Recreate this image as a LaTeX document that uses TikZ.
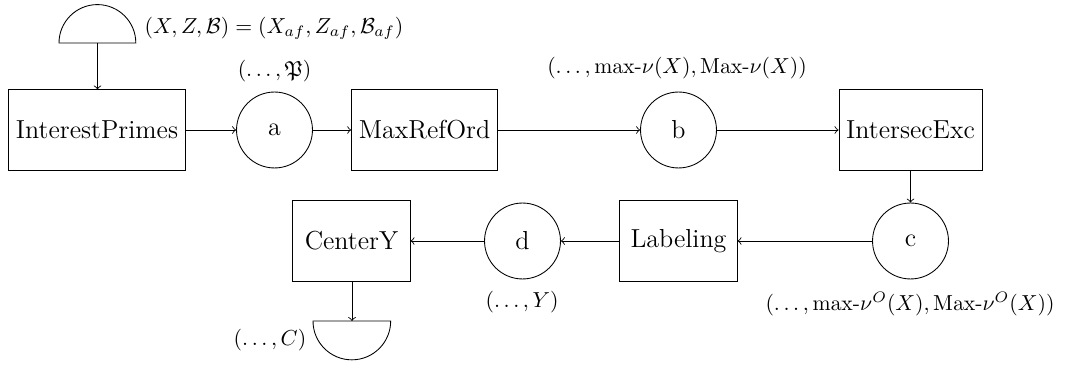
\documentclass[tikz,border=0pt]{standalone}
\usepackage{amsmath,amssymb}
\tikzset{
  proc/.style={draw, rectangle, font=\large, minimum height=1.3cm, minimum width=1.9cm, inner sep=0.3333em},
  state/.style={draw, circle, font=\large, minimum size=35pt, inner sep=0pt},
  lbl/.style={inner sep=0pt},
  conn/.style={->},
}
\begin{document}
\begin{tikzpicture}[x=0.46083pt, y=-0.46083pt]
\useasboundingbox (0,0) rectangle (1078,367);
% source / sink
\draw (59,43) arc[start angle=180, end angle=0, radius=17.7pt] -- cycle;
\coordinate (src) at (97.5,43);
\draw (313,321) arc[start angle=180, end angle=360, radius=17.9pt] -- cycle;
\coordinate (snk) at (352,321);
% nodes
\node[proc] (ip) at (97,130) {InterestPrimes};
\node[state] (a) at (274.5,130) {a};
\node[proc] (mro) at (424.5,130) {MaxRefOrd};
\node[state] (b) at (678.5,130) {b};
\node[proc] (ie) at (910.5,130) {IntersecExc};
\node[state] (c) at (910.5,241) {c};
\node[proc] (lab) at (678.5,241) {Labeling};
\node[state] (d) at (522.5,241) {d};
\node[proc] (cy) at (351.5,241) {CenterY};
% labels
\node[lbl] (lsrc) at (274,28) {$(X,Z,\mathcal{B})=(X_{af},Z_{af},\mathcal{B}_{af})$};
\node[lbl] (la) at (274.5,71) {$(\ldots,\mathfrak{P})$};
\node[lbl] (lb) at (677,68) {$(\ldots,\mathrm{max}\text{-}\nu(X),\mathrm{Max}\text{-}\nu(X))$};
\node[lbl] (lc) at (910,304) {$(\ldots,\mathrm{max}\text{-}\nu^{O}(X),\mathrm{Max}\text{-}\nu^{O}(X))$};
\node[lbl] (ld) at (522,302) {$(\ldots,Y)$};
\node[lbl] (lsnk) at (270,340) {$(\ldots,C)$};
% connectors
\draw[conn] (src) -- (src |- ip.north);
\draw[conn] (ip) -- (a);
\draw[conn] (a) -- (mro);
\draw[conn] (mro) -- (b);
\draw[conn] (b) -- (ie);
\draw[conn] (ie) -- (c);
\draw[conn] (c) -- (lab);
\draw[conn] (lab) -- (d);
\draw[conn] (d) -- (cy);
\draw[conn] (cy.south -| snk) -- (snk);
\end{tikzpicture}
\end{document}
